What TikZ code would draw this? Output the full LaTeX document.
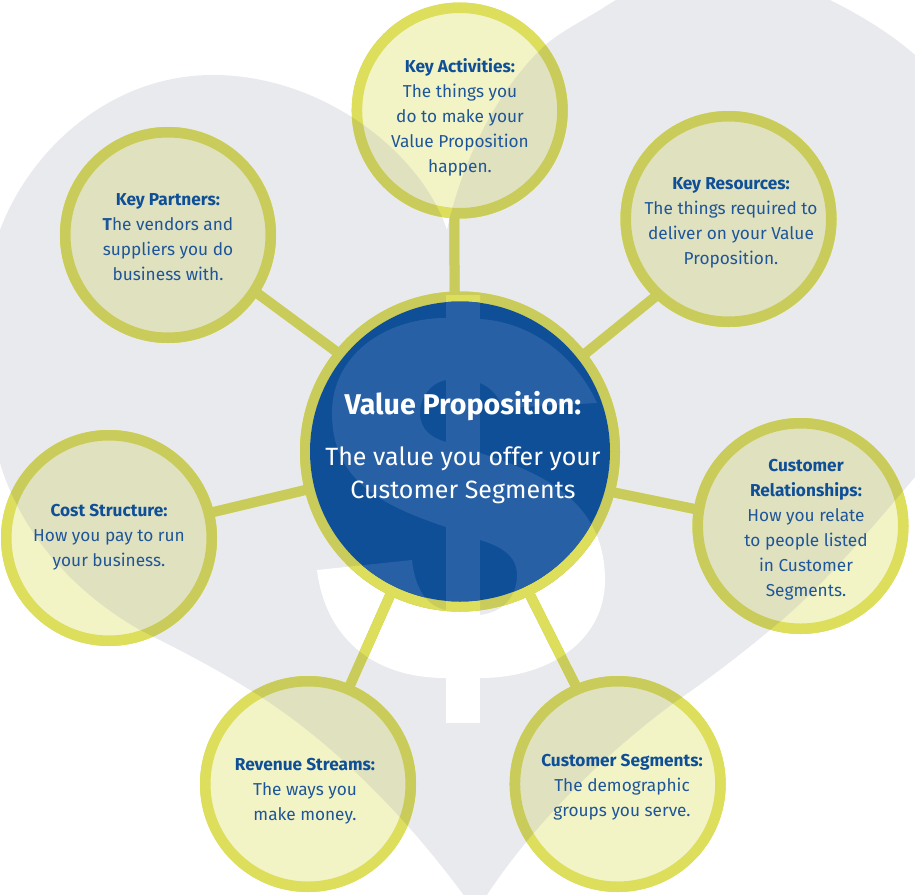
\documentclass[tikz,border=0pt]{standalone}
\usepackage{fontspec}
\setmainfont{Fira Sans}
\definecolor{heartgray}{HTML}{E9EAEE}
\definecolor{ringw}{HTML}{DCDE5C}
\definecolor{fillw}{HTML}{F2F4C6}
\definecolor{ringg}{HTML}{C9CC5A}
\definecolor{fillg}{HTML}{E0E2BF}
\definecolor{navy}{HTML}{0F4F97}
\definecolor{lightnavy}{HTML}{2860A5}
\definecolor{headc}{HTML}{0F4F97}
\definecolor{bodyc}{HTML}{1F5599}
\newcommand{\heartpath}{(447,230) .. controls (420,150) and (320,75) .. (213,75)
  .. controls (110,75) and (30,150) .. (0,230)
  .. controls (-25,300) and (-25,400) .. (0,463)
  .. controls (20,530) and (70,590) .. (140,630)
  .. controls (180,650) and (215,668) .. (250,690)
  .. controls (320,733) and (400,805) .. (476,912)
  .. controls (520,840) and (590,765) .. (675,702)
  .. controls (710,678) and (740,655) .. (770,630)
  .. controls (820,590) and (870,530) .. (915,477)
  .. controls (1010,360) and (1030,150) .. (915,55)
  .. controls (890,33) and (860,15) .. (830,0)
  .. controls (790,-20) and (750,-30) .. (710,-30)
  .. controls (670,-30) and (630,-10) .. (600,10)
  .. controls (575,25) and (555,35) .. (540,50)
  .. controls (490,100) and (460,170) .. (447,230) -- cycle}
\newcommand{\dollarS}{(446,318) -- (480,319) .. controls (530,322) and (575,355) .. (597,403) -- (503,408) .. controls (498,395) and (490,387) .. (480,383) -- (446,380) .. controls (430,383) and (420,398) .. (420,413) .. controls (420,430) and (432,438) .. (446,442) -- (480,453) .. controls (540,472) and (605,500) .. (605,580) .. controls (605,640) and (550,678) .. (480,678) -- (446,678) .. controls (370,678) and (325,635) .. (317,570) -- (412,560) .. controls (415,590) and (428,607) .. (446,610) -- (480,615) .. controls (505,612) and (517,595) .. (517,575) .. controls (517,555) and (500,546) .. (480,540) -- (446,527) .. controls (380,505) and (332,480) .. (332,413) .. controls (332,355) and (385,318) .. (446,318) -- cycle}
\newcommand{\dollarbar}{(446,295) rectangle (480,723)}
\tikzset{
  sat/.style={circle,draw=ringw,fill=fillw,line width=10.5pt,inner sep=0pt,outer sep=0pt,minimum size=205.5pt},
  hub/.style={circle,draw=ringw,line width=10pt,inner sep=0pt,outer sep=0pt,minimum size=310pt},
  lbl/.style={align=center,inner sep=0pt,text=bodyc,font=\fontsize{17.25}{25}\selectfont}
}
\newcommand{\hd}[1]{{\color{headc}\bfseries #1}}
% one full pass of connectors and rings in the given colours
\newcommand{\ringlayer}[2]{%
  \foreach \a/\b in {ka.267/vp.92,kp.327/vp.141.5,kr.227/vp.38.5,cr.171.4/vp.345,cus.113.3/vp.296.6,rs.67/vp.244.3,cost.14/vp.194.8}
    \draw[#1,line width=10pt] (\a) -- (\b);
  \draw[#1,line width=10pt] (vp.center) circle[radius=155];
  \foreach \n in {ka,kp,kr,cr,cus,rs,cost}
    \draw[draw=#1,fill=#2,line width=10.5pt] (\n.center) circle[radius=102.75];
}
\begin{document}
\begin{tikzpicture}[x=1pt,y=-1pt]
\useasboundingbox (0,0) rectangle (915,894);
\clip (0,0) rectangle (915,894);
\fill[white] (0,0) rectangle (915,894);
\fill[heartgray] \heartpath;
\fill[white] \dollarS;
\fill[white] \dollarbar;
% shapes over white
\node[hub] (vp) at (460,451.5) {};
\node[sat] (ka) at (459.7,110.5) {};
\node[sat] (kp) at (168,235) {};
\node[sat] (kr) at (728.5,219) {};
\node[sat] (cr) at (800.5,526) {};
\node[sat] (cus) at (617.7,784) {};
\node[sat] (rs) at (308,784) {};
\node[sat] (cost) at (109,538) {};
\ringlayer{ringw}{fillw}
% shapes over the grey heart
\begin{scope}
  \clip \heartpath;
  \ringlayer{ringg}{fillg}
\end{scope}
% shapes over the white dollar
\begin{scope}
  \clip \dollarS;
  \ringlayer{ringw}{fillw}
\end{scope}
\begin{scope}
  \clip \dollarbar;
  \ringlayer{ringw}{fillw}
\end{scope}
% central disc
\fill[navy] (vp.center) circle[radius=150];
\begin{scope}
  \clip (vp.center) circle[radius=150];
  \fill[lightnavy] \dollarS;
  \fill[lightnavy] \dollarbar;
\end{scope}
% labels
\node[lbl] (tka) at (460,117) {\hd{Key Activities:}\\The things you\\do to make your\\Value Proposition\\happen.};
\node[lbl] (tkp) at (168,237) {\hd{Key Partners:}\\{\bfseries T}he vendors and\\suppliers you do\\business with.};
\node[lbl] (tkr) at (731,222.5) {\hd{Key Resources:}\\The things required to\\deliver on your Value\\Proposition.};
\node[lbl] (tcr) at (806,529.5) {\hd{Customer}\\\hd{Relationships:}\\How you relate\\to people listed\\in Customer\\Segments.};
\node[lbl] (tcost) at (109,537) {\hd{Cost Structure:}\\How you pay to run\\your business.};
\node[lbl] (trs) at (305,791) {\hd{Revenue Streams:}\\The ways you\\make money.};
\node[lbl] (tcus) at (622,787) {\hd{Customer Segments:}\\The demographic\\groups you serve.};
\node[align=center,inner sep=0pt,text=white,font=\fontsize{25}{32.5}\selectfont] (tvp) at (463,447.5) {{\fontsize{28.6}{32.5}\selectfont\bfseries Value Proposition:}\\[18.5pt]The value you offer your\\Customer Segments};
\end{tikzpicture}
\end{document}
